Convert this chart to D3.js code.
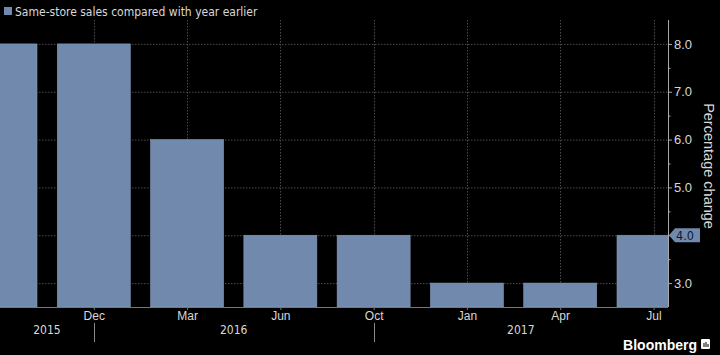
<!DOCTYPE html>
<html><head><meta charset="utf-8">
<script src="https://cdn.jsdelivr.net/npm/d3@7"></script>
<style>
html,body{margin:0;padding:0;background:#000;}
svg{display:block;font-family:"DejaVu Sans Condensed","DejaVu Sans",sans-serif;}
</style></head>
<body>
<svg id="c" width="720" height="355"></svg>
<script>
const categories = ["Sep 2015","Dec 2015","Mar 2016","Jun 2016","Oct 2016","Jan 2017","Apr 2017","Jul 2017"];
const monthLabels = ["","Dec","Mar","Jun","Oct","Jan","Apr","Jul"];
const values = [8.0, 8.0, 6.0, 4.0, 4.0, 3.0, 3.0, 4.0];
const yTicks = [3.0, 4.0, 5.0, 6.0, 7.0, 8.0];
const yMinorTicks = [3.5, 4.5, 5.5, 6.5, 7.5];
const years = ["2015","2016","2017"];
const yearSeparators = ["Dec 2015","Oct 2016"];
const legendLabel = "Same-store sales compared with year earlier";
const axisTitle = "Percentage change";
const lastValue = values[values.length-1];

const svg = d3.select("#c");
const plotLeft = 0, plotRight = 668, plotTop = 20, plotBottom = 307;
const barColor = "#7189ad";

const x = d3.scalePoint().domain(categories).range([0.5, 653.5]);
const barW = 73;
const y = d3.scaleLinear().domain([2.5, 8.5]).range([plotBottom, plotTop]);

svg.append("defs").append("clipPath").attr("id","plot")
  .append("rect").attr("x",plotLeft).attr("y",plotTop).attr("width",plotRight-plotLeft).attr("height",plotBottom-plotTop);

// grid
const grid = svg.append("g");
grid.selectAll("line.h").data(yTicks).join("line")
  .attr("x1",plotLeft).attr("x2",plotRight).attr("y1",d=>y(d)+0.5).attr("y2",d=>y(d)+0.5)
  .attr("stroke","#4a4a4a").attr("stroke-dasharray","1.5,1.5");
grid.selectAll("line.v").data(categories.slice(1)).join("line")
  .attr("x1",d=>Math.round(x(d))+0.5).attr("x2",d=>Math.round(x(d))+0.5).attr("y1",plotTop).attr("y2",plotBottom)
  .attr("stroke","#4a4a4a").attr("stroke-dasharray","1.5,1.5");

// bars
svg.append("g").attr("clip-path","url(#plot)")
  .selectAll("rect").data(values).join("rect")
  .attr("x",(d,i)=>x(categories[i])-barW/2)
  .attr("width",barW)
  .attr("y",d=>y(d))
  .attr("height",d=>plotBottom-y(d))
  .attr("fill",barColor).attr("stroke","#8499b8").attr("stroke-width",0.6);

// bottom axis
const xAxis = d3.axisBottom(x).tickValues(categories.slice(1)).tickFormat((d)=>monthLabels[categories.indexOf(d)]).tickSize(3).tickSizeOuter(0);
const gx = svg.append("g").attr("transform",`translate(0,${plotBottom})`).call(xAxis);
gx.select(".domain").attr("stroke","#777").attr("d",`M${plotLeft},0.5H${plotRight}`);
gx.selectAll(".tick line").attr("stroke","#777");
gx.selectAll(".tick text").attr("fill","#d8d8d8").attr("font-size",12).attr("dy","0.55em");

// year labels: centred between separators / plot edges
const bounds = [plotLeft, ...yearSeparators.map(d=>x(d)), plotRight];
svg.append("g").selectAll("text").data(years).join("text")
  .attr("x",(d,i)=>(bounds[i]+bounds[i+1])/2)
  .attr("y",334).attr("text-anchor","middle").attr("fill","#d8d8d8").attr("font-size",12).text(d=>d);
svg.append("g").selectAll("line").data(yearSeparators).join("line")
  .attr("x1",d=>Math.round(x(d))+0.5).attr("x2",d=>Math.round(x(d))+0.5).attr("y1",323).attr("y2",342)
  .attr("stroke","#888");

// right axis (tick label at the last value is replaced by the value tag)
const yAxis = d3.axisRight(y).tickValues(yTicks).tickFormat(d=> d===lastValue ? "" : d3.format(".1f")(d)).tickSize(4).tickPadding(2);
const gy = svg.append("g").attr("transform",`translate(${plotRight},0)`).call(yAxis);
gy.select(".domain").attr("stroke","#aaa").attr("d",`M0.5,${plotTop}V${plotBottom}`);
gy.selectAll(".tick line").attr("stroke","#aaa");
gy.selectAll(".tick text").attr("fill","#d8d8d8").attr("font-size",13);
gy.selectAll(".tick").filter(d=>d===lastValue).select("text").remove();
svg.append("g").attr("transform",`translate(${plotRight},0)`)
  .selectAll("line").data(yMinorTicks).join("line")
  .attr("x1",0).attr("x2",2.5).attr("y1",d=>y(d)+0.5).attr("y2",d=>y(d)+0.5).attr("stroke","#aaa");

// last value tag
const ty = y(lastValue);
const tag = svg.append("g").attr("transform",`translate(${plotRight+1},${ty})`);
tag.append("path").attr("d","M0,0 L6,-7 H31 V7 H6 Z").attr("fill",barColor);
tag.append("text").attr("x",7).attr("y",0).attr("dy","0.36em").attr("font-size",12.5).attr("fill","#0d1a33").text(d3.format(".1f")(lastValue));

// axis title
svg.append("text").attr("transform",`translate(704,166) rotate(90)`).attr("text-anchor","middle")
  .attr("fill","#d8d8d8").attr("font-size",14.5).attr("font-family","Liberation Sans, Arial, sans-serif").text(axisTitle);

// legend
svg.append("rect").attr("x",4).attr("y",7).attr("width",8).attr("height",8).attr("fill",barColor);
svg.append("text").attr("x",15).attr("y",15.5).attr("fill","#d8d8d8").attr("font-size",12).text(legendLabel);

// Bloomberg
svg.append("text").attr("x",697).attr("y",350).attr("text-anchor","end").attr("fill","#fff")
  .attr("font-size",14).attr("font-weight","bold").attr("font-family","Liberation Sans, Arial, sans-serif").text("Bloomberg");
const logo = svg.append("g").attr("transform","translate(701,339)");
logo.append("rect").attr("width",9).attr("height",10).attr("fill","#fff").attr("rx",1);
logo.selectAll("line").data([3,5,7]).join("line").attr("x1",d=>d).attr("x2",d=>d).attr("y1",8).attr("y2",(d,i)=>[4,3,5][i]).attr("stroke","#000").attr("stroke-width",1);
</script>
</body></html>
